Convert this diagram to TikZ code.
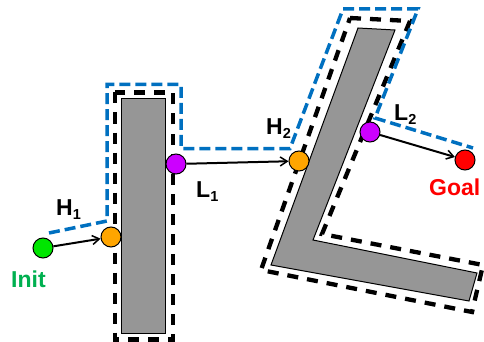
\documentclass[tikz,border=0pt]{standalone}
\usepackage{fontspec}
\setmainfont{Liberation Sans}
\usetikzlibrary{arrows.meta}
\definecolor{pathblue}{RGB}{0,112,192}
\definecolor{obsgray}{RGB}{150,150,150}
\definecolor{initgreen}{RGB}{0,230,0}
\definecolor{inittext}{RGB}{0,176,80}
\definecolor{hitorange}{RGB}{255,165,0}
\definecolor{leavemag}{RGB}{204,0,255}
\definecolor{goalred}{RGB}{255,0,0}
\tikzset{
  obstacle/.style={fill=obsgray,draw=black,line width=1pt},
  cspace/.style={draw=black,line width=4.3pt,dash pattern=on 11pt off 9pt},
  bugpath/.style={draw=pathblue,line width=3.5pt,dash pattern=on 11pt off 5pt},
  pt/.style={circle,draw=black,line width=1pt,minimum size=20pt,inner sep=0pt},
  arr/.style={draw=black,line width=2pt,-{Straight Barb[length=7pt,width=9pt,line width=1.5pt]}},
  lbl/.style={anchor=base west,inner sep=0pt,font=\bfseries\fontsize{23}{25}\selectfont},
}
\newcommand{\lab}[2]{#1\raisebox{-4pt}{\fontsize{14.5}{15}\selectfont #2}}
\begin{document}
\begin{tikzpicture}[x=1pt,y=-1pt]
\useasboundingbox (0,0) rectangle (484,342);
% obstacles
\draw[obstacle] (121,99) rectangle (165,333);
\draw[obstacle] (358,28) -- (395,30) -- (313,240) -- (477,273) -- (469,301) -- (271,265) -- cycle;
% configuration-space outlines
\draw[cspace] (115,92.5) rectangle (173,339.5);
\draw[cspace] (350,18) -- (410,21) -- (322,234) -- (483,265) -- (472,312) -- (261,270) -- cycle;
% bug path
\draw[bugpath] (49,233) -- (107,221) -- (107,84.5) -- (181,84.5) -- (181,148.5) -- (290,148.5)
  -- (343,9) -- (418,9) -- (375,118) -- (473,148);
% points
\node[pt,fill=initgreen] (init) at (43,248) {};
\node[pt,fill=hitorange] (h1) at (111,237) {};
\node[pt,fill=leavemag] (l1) at (176,164) {};
\node[pt,fill=hitorange] (h2) at (299,161) {};
\node[pt,fill=leavemag] (l2) at (370,132) {};
\node[pt,fill=goalred] (goal) at (465,160) {};
% arrows
\draw[arr] (init) -- (h1);
\draw[arr] (l1) -- (h2);
\draw[arr] (l2) -- (goal);
% labels
\node[lbl] (th1) at (56,215) {\lab{H}{1}};
\node[lbl] (tl1) at (196,197) {\lab{L}{1}};
\node[lbl] (th2) at (266,135) {\lab{H}{2}};
\node[lbl] (tl2) at (394,121) {\lab{L}{2}};
\node[lbl,text=inittext] (tinit) at (11,287) {Init};
\node[lbl,text=goalred] (tgoal) at (429,195) {Goal};
\end{tikzpicture}
\end{document}
